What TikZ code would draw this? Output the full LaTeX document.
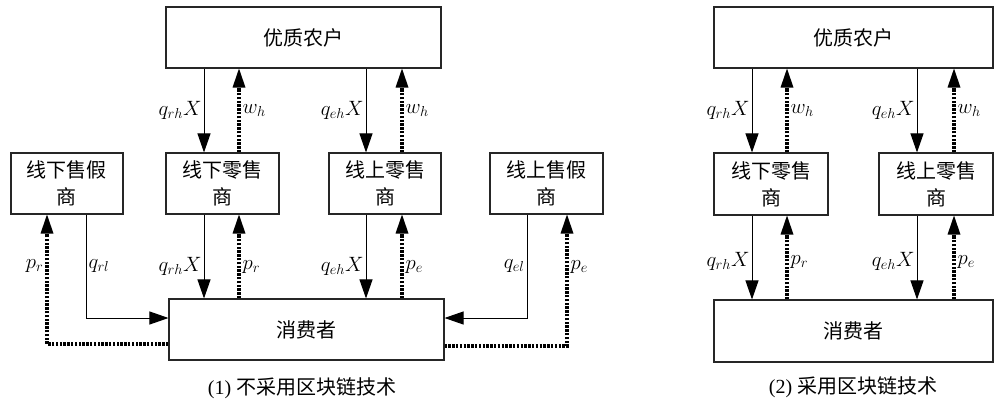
\documentclass[tikz,border=0pt]{standalone}
\usepackage{amsmath}
\usepackage{fontspec}
\setmainfont{Liberation Serif}
\newfontfamily\cjk{Noto Sans CJK SC}
\usepackage{tikz}
\usetikzlibrary{calc, arrows.meta}

\begin{document}
\begin{tikzpicture}[x=1pt, y=-1pt,
        party/.style={rectangle, draw=black!85, line width=1.1pt, align=center, inner sep=0pt,
            font=\cjk\fontsize{20}{27}\selectfont},
        goods/.style={line width=1pt, -{Triangle[width=13pt,length=19pt]}},
        money/.style={line width=3.2pt, dash pattern=on 2.4pt off 1.4pt, -{Triangle[width=13pt,length=19pt,line width=0pt]}},
        lab/.style={font=\fontsize{21}{24}\selectfont, inner sep=2pt},
        subcap/.style={font=\fontsize{20}{24}\selectfont}]

        \useasboundingbox (0,0) rectangle (999,402);

        %% (1) Boxes
        \node (farmL) [party, minimum width=275pt, minimum height=61pt] at (303.5,37.5) {优质农户};
        \node (fakeoff) [party, minimum width=112pt, minimum height=61pt] at (67,183.5) {线下售假\\商};
        \node (retoff) [party, minimum width=113pt, minimum height=61pt] at (222.5,183.5) {线下零售\\商};
        \node (reton) [party, minimum width=112pt, minimum height=61pt] at (385,183.5) {线上零售\\商};
        \node (fakeon) [party, minimum width=113pt, minimum height=61pt] at (546.5,183.5) {线上售假\\商};
        \node (consL) [party, minimum width=275pt, minimum height=61pt] at (306.5,329.5) {消费者};

        %% (1) Columns of the connectors
        \coordinate (a1) at (204,0);
        \coordinate (b1) at (239,0);
        \coordinate (a2) at (366,0);
        \coordinate (b2) at (402,0);
        \coordinate (s1) at (86,318);
        \coordinate (d1) at (47,344);
        \coordinate (s2) at (527,318);
        \coordinate (d2) at (567,346);

        %% (1) Farmer and retailers
        \draw [goods] (farmL.south -| a1) -- node [lab, left] {$q_{rh}X$} (retoff.north -| a1);
        \draw [money] (retoff.north -| b1) -- node [lab, right] {$w_h$} (farmL.south -| b1);
        \draw [goods] (farmL.south -| a2) -- node [lab, left] {$q_{eh}X$} (reton.north -| a2);
        \draw [money] (reton.north -| b2) -- node [lab, right] {$w_h$} (farmL.south -| b2);

        %% (1) Retailers and consumers
        \draw [goods] (retoff.south -| a1) -- node [lab, left, pos=0.62] {$q_{rh}X$} (consL.north -| a1);
        \draw [money] (consL.north -| b1) -- node [lab, right, pos=0.38] {$p_r$} (retoff.south -| b1);
        \draw [goods] (reton.south -| a2) -- node [lab, left, pos=0.62] {$q_{eh}X$} (consL.north -| a2);
        \draw [money] (consL.north -| b2) -- node [lab, right, pos=0.38] {$p_e$} (reton.south -| b2);

        %% (1) Fake sellers
        \draw [goods] (fakeoff.south -| s1) |- node [lab, right, pos=0.25] {$q_{rl}$} (consL.west |- s1);
        \draw [money] (consL.west |- d1) -| node [lab, left, pos=0.8] {$p_r$} (fakeoff.south -| d1);
        \draw [goods] (fakeon.south -| s2) |- node [lab, left, pos=0.25] {$q_{el}$} (consL.east |- s2);
        \draw [money] (consL.east |- d2) -| node [lab, right, pos=0.8] {$p_e$} (fakeon.south -| d2);

        \node (capL) [subcap] at (302,388) {(1) {\cjk 不采用区块链技术}};

        %% (2) Boxes
        \node (farmR) [party, minimum width=279pt, minimum height=61pt] at (853.5,37.5) {优质农户};
        \node (retoffR) [party, minimum width=114pt, minimum height=62pt] at (771,184) {线下零售\\商};
        \node (retonR) [party, minimum width=114pt, minimum height=62pt] at (936,184) {线上零售\\商};
        \node (consR) [party, minimum width=279pt, minimum height=62pt] at (853.5,331) {消费者};

        \coordinate (a3) at (752,0);
        \coordinate (b3) at (787,0);
        \coordinate (a4) at (917,0);
        \coordinate (b4) at (954,0);

        %% (2) Connectors
        \draw [goods] (farmR.south -| a3) -- node [lab, left] {$q_{rh}X$} (retoffR.north -| a3);
        \draw [money] (retoffR.north -| b3) -- node [lab, right] {$w_h$} (farmR.south -| b3);
        \draw [goods] (farmR.south -| a4) -- node [lab, left] {$q_{eh}X$} (retonR.north -| a4);
        \draw [money] (retonR.north -| b4) -- node [lab, right] {$w_h$} (farmR.south -| b4);
        \draw [goods] (retoffR.south -| a3) -- node [lab, left, pos=0.55] {$q_{rh}X$} (consR.north -| a3);
        \draw [money] (consR.north -| b3) -- node [lab, right, pos=0.45] {$p_r$} (retoffR.south -| b3);
        \draw [goods] (retonR.south -| a4) -- node [lab, left, pos=0.55] {$q_{eh}X$} (consR.north -| a4);
        \draw [money] (consR.north -| b4) -- node [lab, right, pos=0.45] {$p_e$} (retonR.south -| b4);

        \node (capR) [subcap] at (853,387) {(2) {\cjk 采用区块链技术}};

    \end{tikzpicture}
\end{document}
